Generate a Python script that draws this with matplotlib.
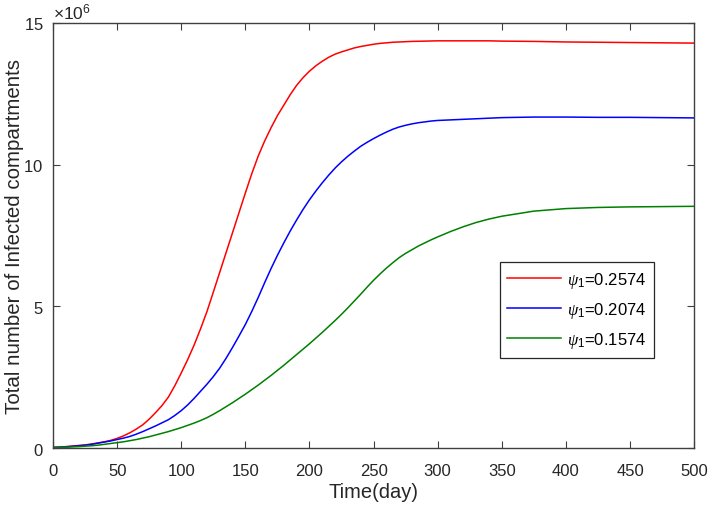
import numpy as np
import matplotlib
matplotlib.use('Agg')
import matplotlib.pyplot as plt
from matplotlib.ticker import ScalarFormatter

plt.rcParams['font.family'] = ['Liberation Sans', 'DejaVu Sans']
plt.rcParams['mathtext.fontset'] = 'custom'
plt.rcParams['mathtext.rm'] = 'Liberation Sans'
plt.rcParams['mathtext.it'] = 'Liberation Serif:italic'

# days
days = list(range(0, 301, 5)) + [310, 320, 330, 340, 350, 375, 400, 425, 450, 475, 500]

# total infected (millions)
red = [0.02, 0.03, 0.05, 0.07, 0.09, 0.11, 0.14, 0.18, 0.22, 0.27,
       0.34, 0.43, 0.54, 0.67, 0.82, 1.02, 1.25, 1.5, 1.80, 2.2,
       2.65, 3.12, 3.63, 4.2, 4.81, 5.5, 6.2, 6.9, 7.6, 8.3,
       9.0, 9.68, 10.3, 10.83, 11.3, 11.73, 12.1, 12.47, 12.8, 13.07,
       13.3, 13.49, 13.65, 13.79, 13.9, 13.98, 14.05, 14.12, 14.17, 14.21,
       14.25, 14.28, 14.3, 14.32, 14.33, 14.34, 14.35, 14.355, 14.36, 14.365,
       14.37,
       14.37, 14.37, 14.37, 14.37, 14.36, 14.35, 14.33, 14.32, 14.31, 14.30, 14.29]
blue = [0.02, 0.03, 0.04, 0.06, 0.08, 0.1, 0.13, 0.17, 0.21, 0.25,
        0.3, 0.35, 0.41, 0.49, 0.58, 0.68, 0.78, 0.89, 1.0, 1.15,
        1.32, 1.52, 1.75, 2.0, 2.25, 2.52, 2.82, 3.17, 3.55, 3.95,
        4.36, 4.82, 5.31, 5.83, 6.33, 6.8, 7.24, 7.66, 8.05, 8.42,
        8.76, 9.07, 9.36, 9.63, 9.88, 10.1, 10.3, 10.48, 10.65, 10.79,
        10.92, 11.04, 11.15, 11.25, 11.33, 11.39, 11.44, 11.48, 11.51, 11.54,
        11.56,
        11.58, 11.6, 11.62, 11.64, 11.66, 11.68, 11.68, 11.67, 11.67, 11.66, 11.65]
green = [0.02, 0.025, 0.03, 0.04, 0.05, 0.065, 0.08, 0.1, 0.13, 0.16,
         0.19, 0.22, 0.26, 0.3, 0.35, 0.4, 0.46, 0.52, 0.58, 0.65,
         0.72, 0.8, 0.88, 0.97, 1.07, 1.19, 1.32, 1.46, 1.6, 1.75,
         1.9, 2.06, 2.22, 2.39, 2.56, 2.74, 2.92, 3.11, 3.3, 3.49,
         3.68, 3.88, 4.08, 4.29, 4.5, 4.72, 4.95, 5.19, 5.43, 5.68,
         5.92, 6.14, 6.35, 6.54, 6.72, 6.87, 7.0, 7.13, 7.24, 7.35,
         7.45,
         7.64, 7.81, 7.96, 8.08, 8.18, 8.36, 8.45, 8.49, 8.51, 8.52, 8.53]

labels = [r'$\psi_1$=0.2574', r'$\psi_1$=0.2074', r'$\psi_1$=0.1574']
colors = ['#ff0000', '#0000ff', '#008000']

fig = plt.figure(figsize=(7.09, 5.06), dpi=100)
ax = fig.add_axes([0.0748, 0.1126, 0.9042, 0.84])

for ys, lab, c in zip([red, blue, green], labels, colors):
    ax.plot(days, np.array(ys) * 1e6, color=c, lw=1.1, label=lab)

ax.set_xlim(0, 500)
ax.set_ylim(0, 15e6)
ax.set_xticks(range(0, 501, 50))
ax.set_yticks([0, 5e6, 10e6, 15e6])
fmt = ScalarFormatter(useMathText=True)
fmt.set_powerlimits((6, 6))
ax.yaxis.set_major_formatter(fmt)
ax.yaxis.get_offset_text().set_fontsize(12.5)
ax.yaxis.get_offset_text().set_color('#404040')

axcol = '#404040'
for s in ax.spines.values():
    s.set_color(axcol)
    s.set_linewidth(1.0)
ax.tick_params(direction='in', length=5, width=0.8, colors=axcol,
               labelsize=12, top=True, right=True, labelcolor='#262626')
ax.tick_params(axis='x', pad=10.5)
ax.tick_params(axis='y', pad=7)

ax.set_xlabel('Time(day)', fontsize=14.5, color='#262626', labelpad=3)
ax.set_ylabel('Total number of Infected compartments', fontsize=14.8,
              color='#262626')
ax.yaxis.set_label_coords(-0.046, 0.5)

leg = ax.legend(loc='upper left', bbox_to_anchor=(0.697, 0.4376),
                fontsize=12, handlelength=3.2, handletextpad=0.4,
                labelspacing=0.62, borderaxespad=0, borderpad=0.45,
                fancybox=False, framealpha=1, edgecolor='#262626')
leg.get_frame().set_linewidth(0.9)

fig.savefig('out.png', dpi=100)
